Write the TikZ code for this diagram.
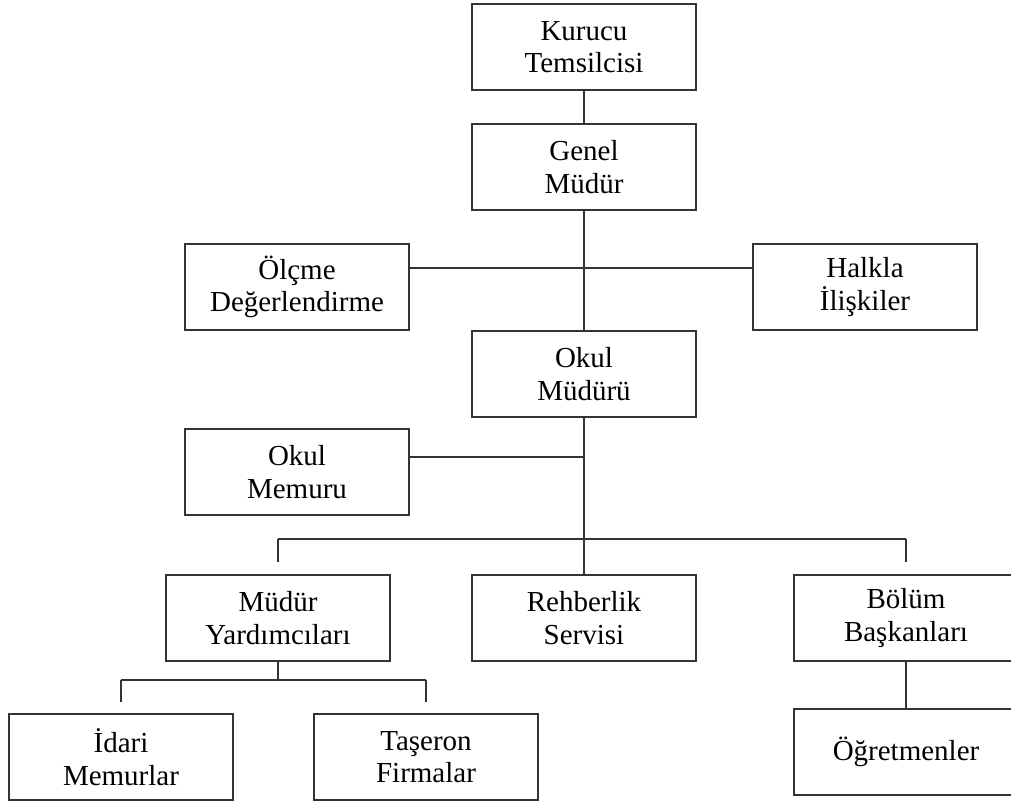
\documentclass[tikz,border=0pt]{standalone}
\usepackage{fontspec}
\setmainfont{Liberation Serif}
\usepackage{tikz}
\tikzset{unit/.style={x=0.02cm,y=-0.02cm},
 box/.style={draw,minimum width=4.48cm,minimum height=1.72cm,inner sep=0pt,
  align=center,font=\fontsize{16.5pt}{18.6pt}\selectfont},
 line/.style={draw=black!80,line width=0.75pt},
 every node/.style={line width=0.75pt,draw=black!80},
 }

\begin{document}
\begin{tikzpicture}[unit]
        \useasboundingbox (0,0) rectangle (1011,801);
        \node[box] (kurucu) at (584,47) {Kurucu\\Temsilcisi};
        \node[box] (genel) at (584,167) {Genel\\Müdür};
        \node[box] (olcme) at (297,287) {Ölçme\\Değerlendirme};
        \node[box] (halkla) at (865,287) {Halkla\\İlişkiler};
        \node[box] (okulmd) at (584,374) {Okul\\Müdürü};
        \node[box] (memur) at (297,472) {Okul\\Memuru};
        \node[box] (myard) at (278,618) {Müdür\\Yardımcıları};
        \node[box] (rehber) at (584,618) {Rehberlik\\Servisi};
        \node[box] (bolum) at (906,618) {Bölüm\\Başkanları};
        \node[box] (idari) at (121,757) {İdari\\Memurlar};
        \node[box] (taseron) at (426,757) {Taşeron\\Firmalar};
        \node[box] (ogret) at (906,752) {Öğretmenler};
        \coordinate (yan) at (584,268);
        \coordinate (mem) at (584,457);
        \coordinate (bus) at (584,539);
        \coordinate (alt) at (278,680);
        \draw[line] (kurucu) -- (genel);
        \draw[line] (genel) -- (okulmd);
        \draw[line] (olcme.east |- yan) -- (halkla.west |- yan);
        \draw[line] (memur.east |- mem) -- (mem);
        \draw[line] (okulmd) -- (rehber);
        \draw[line] (myard |- bus) -- (bolum |- bus);
        \draw[line] (myard |- bus) -- ++(0,23);
        \draw[line] (bolum |- bus) -- ++(0,23);
        \draw[line] (myard) -- (alt);
        \draw[line] (idari |- alt) -- (taseron |- alt);
        \draw[line] (idari |- alt) -- ++(0,22);
        \draw[line] (taseron |- alt) -- ++(0,22);
        \draw[line] (bolum) -- (ogret);
    \end{tikzpicture}
\end{document}
